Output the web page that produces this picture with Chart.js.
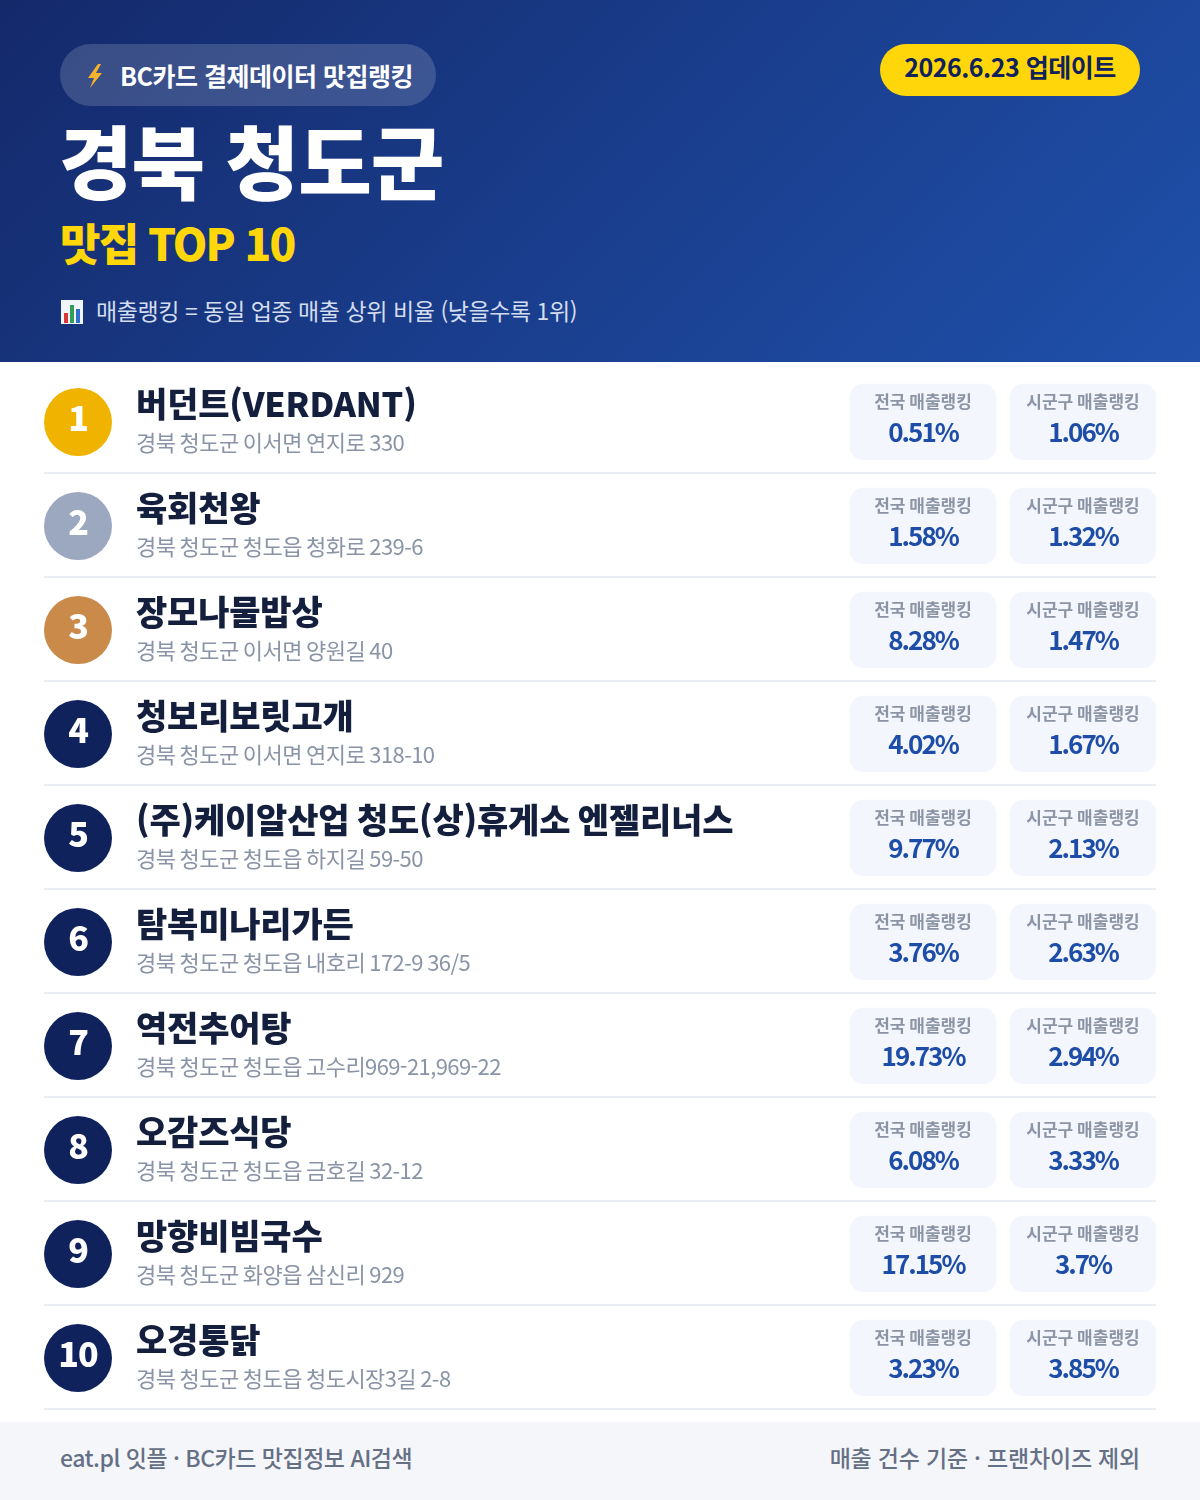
<!DOCTYPE html>
<html lang="ko">
<head>
<meta charset="utf-8">
<title>경북 청도군 맛집 TOP 10</title>
<script src="https://cdn.jsdelivr.net/npm/chart.js@4"></script>
<style>
  html, body { margin:0; padding:0; background:#fff; }
  body { width:1200px; height:1500px; position:relative; overflow:hidden; font-family:"Noto Sans CJK KR",sans-serif; }
  .header { position:absolute; left:0; top:0; width:1200px; height:362px; background:linear-gradient(135deg,#14296a 0%,#1a3f8f 55%,#1f50aa 100%); }
  .header div, .footer div { position:absolute; white-space:nowrap; }
  .pill { left:60px; top:44px; width:376px; height:62px; border-radius:31px; background:rgba(255,255,255,0.16); }
  .pill-text { left:120px; top:44px; line-height:62px; font-size:25px; font-weight:700; color:#fff; letter-spacing:-0.5px; }
  .badge { left:880px; top:44px; width:260px; height:52px; border-radius:26px; background:#ffd60a; color:#10225c; font-size:25px; font-weight:700; line-height:45px; text-align:center; letter-spacing:-0.5px; }
  .title { left:59px; top:105px; line-height:106px; font-size:80px; font-weight:900; color:#fff; letter-spacing:-1px; }
  .sub { left:60px; top:213px; line-height:58px; font-size:44px; font-weight:900; color:#ffd60a; letter-spacing:-1.8px; }
  .note { left:96px; top:292px; line-height:36px; font-size:23px; color:#d3ddf0; letter-spacing:-0.44px; }
  .icon { position:absolute; }
  .footer { position:absolute; left:0; top:1422px; width:1200px; height:78px; background:#f5f6fa; color:#667085; font-size:23px; font-weight:500; line-height:71px; letter-spacing:-0.5px; }
  #rankChart { position:absolute; left:0; top:362px; }
</style>
</head>
<body>
<div class="header">
  <div class="pill"></div>
  <svg class="icon" style="left:84px;top:63px" width="22" height="26" viewBox="0 0 22 26"><path d="M14 1 L4 15 L10 15 L6 25 L18 10 L12 10 L17 1 Z" fill="#f7b32b"/></svg>
  <div class="pill-text">BC카드 결제데이터 맛집랭킹</div>
  <div class="badge">2026.6.23 업데이트</div>
  <div class="title">경북 청도군</div>
  <div class="sub">맛집 TOP 10</div>
  <svg class="icon" style="left:60px;top:299px" width="24" height="26" viewBox="0 0 24 26"><rect x="1" y="1" width="22" height="24" fill="#f2f5f8"/><rect x="4" y="14" width="4" height="10" fill="#d93636"/><rect x="10" y="6" width="4" height="18" fill="#2f9e58"/><rect x="16" y="10" width="4" height="14" fill="#2f6fd0"/></svg>
  <div class="note">매출랭킹 = 동일 업종 매출 상위 비율 (낮을수록 1위)</div>
</div>

<canvas id="rankChart" width="1200" height="1060"></canvas>

<div class="footer">
  <div style="left:60px">eat.pl 잇플 · BC카드 맛집정보 AI검색</div>
  <div style="right:60px;letter-spacing:-0.2px">매출 건수 기준 · 프랜차이즈 제외</div>
</div>

<script>
const ranks = ['1','2','3','4','5','6','7','8','9','10'];
const names = ['버던트(VERDANT)','육회천왕','장모나물밥상','청보리보릿고개','(주)케이알산업 청도(상)휴게소 엔젤리너스','탐복미나리가든','역전추어탕','오감즈식당','망향비빔국수','오경통닭'];
const addresses = ['경북 청도군 이서면 연지로 330','경북 청도군 청도읍 청화로 239-6','경북 청도군 이서면 양원길 40','경북 청도군 이서면 연지로 318-10','경북 청도군 청도읍 하지길 59-50','경북 청도군 청도읍 내호리 172-9 36/5','경북 청도군 청도읍 고수리969-21,969-22','경북 청도군 청도읍 금호길 32-12','경북 청도군 화양읍 삼신리 929','경북 청도군 청도읍 청도시장3길 2-8'];
const nationalRank = [0.51,1.58,8.28,4.02,9.77,3.76,19.73,6.08,17.15,3.23];
const localRank = [1.06,1.32,1.47,1.67,2.13,2.63,2.94,3.33,3.7,3.85];
const nationalLabel = '전국 매출랭킹';
const localLabel = '시군구 매출랭킹';

// x axis runs in page pixels from the left edge of the list
const CIRCLE_X = 34, TEXT_X = 92;
const COL1 = [806, 952], COL2 = [966, 1112];
const FONT = '"Noto Sans CJK KR",sans-serif';
const medal = ['#f0b400','#9ba8bf','#c98a4a'];
const navy = '#10225c';

// row separators sit 1px above the band edge, so not the scale's own grid
const rowLines = {
  id: 'rowLines',
  beforeDatasetsDraw(chart) {
    const { ctx, chartArea, scales: { y } } = chart;
    ctx.save();
    ctx.fillStyle = '#e9ecf1';
    ranks.forEach((r, i) => {
      ctx.fillRect(chartArea.left, y.getPixelForValue(i + 0.5) - 2, chartArea.width, 2);
    });
    ctx.restore();
  }
};

const rowText = {
  id: 'rowText',
  afterDatasetsDraw(chart) {
    const { ctx, scales: { x, y } } = chart;
    const put = (txt, px, py, font, color, align, spacing) => {
      ctx.font = font + ' ' + FONT;
      ctx.fillStyle = color;
      ctx.textAlign = align;
      ctx.textBaseline = 'middle';
      ctx.letterSpacing = spacing || '0px';
      ctx.fillText(txt, px, py);
    };
    ctx.save();
    ranks.forEach((r, i) => {
      const cy = y.getPixelForValue(i);
      put(r, x.getPixelForValue(CIRCLE_X), cy - 4, '900 34px', '#fff', 'center', '-1px');
      put(names[i], x.getPixelForValue(TEXT_X), cy - 18, '900 34px', '#141f3d', 'left', '-0.2px');
      put(addresses[i], x.getPixelForValue(TEXT_X), cy + 21, '400 22px', '#8a94a6', 'left', '-0.6px');
      [[COL1, nationalLabel, nationalRank], [COL2, localLabel, localRank]].forEach(([col, label, vals]) => {
        const mid = x.getPixelForValue((col[0] + col[1]) / 2);
        put(label, mid, cy - 20, '700 17px', '#8b95a5', 'center');
        put(vals[i] + '%', mid, cy + 10, '700 26px', '#1e4da8', 'center', '-2px');
      });
    });
    ctx.restore();
  }
};

new Chart(document.getElementById('rankChart'), {
  type: 'bar',
  data: {
    labels: ranks,
    datasets: [
      { label: nationalLabel, data: ranks.map(() => COL1), backgroundColor: '#f3f6fc', borderRadius: 14, borderSkipped: false, barThickness: 76, grouped: false },
      { label: localLabel, data: ranks.map(() => COL2), backgroundColor: '#f3f6fc', borderRadius: 14, borderSkipped: false, barThickness: 76, grouped: false },
      { type: 'scatter', label: '순위', data: ranks.map(r => ({ x: CIRCLE_X, y: r })), pointRadius: 34, pointHoverRadius: 34, borderWidth: 0,
        pointBackgroundColor: ranks.map((r, i) => medal[i] || navy), clip: false }
    ]
  },
  options: {
    indexAxis: 'y',
    responsive: false,
    animation: false,
    events: [],
    layout: { autoPadding: false, padding: { left: 44, right: 44, top: 8, bottom: 12 } },
    plugins: { legend: { display: false }, tooltip: { enabled: false } },
    scales: {
      x: { type: 'linear', min: 0, max: 1112, display: false },
      y: {
        type: 'category', offset: true,
        border: { display: false },
        ticks: { display: false },
        grid: { display: false, drawTicks: false, tickLength: 0 }
      }
    }
  },
  plugins: [rowLines, rowText]
});
</script>
</body>
</html>
